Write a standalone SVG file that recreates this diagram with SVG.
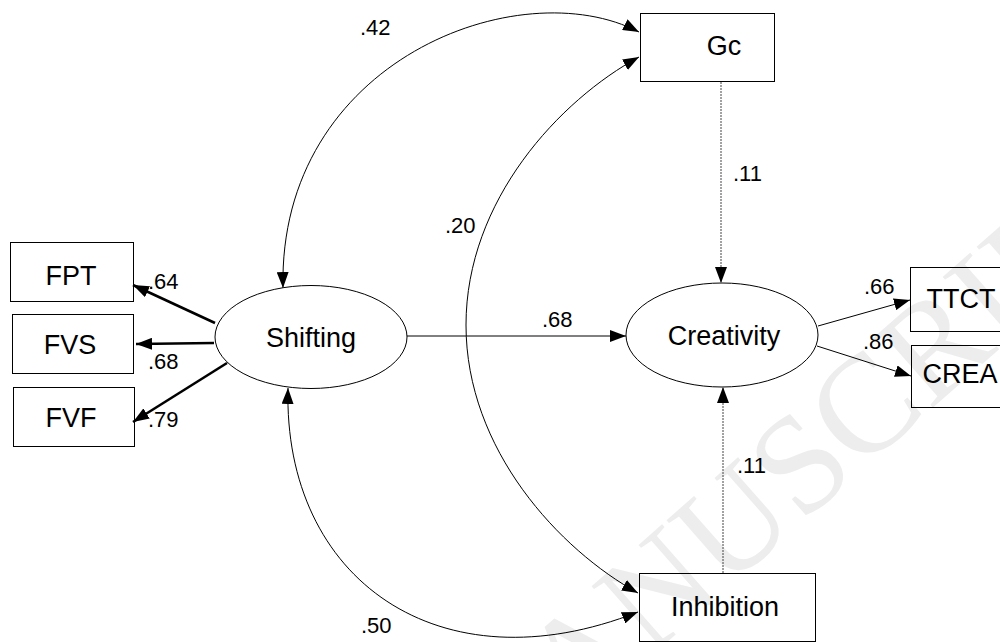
<svg xmlns="http://www.w3.org/2000/svg" width="1000" height="642" viewBox="0 0 1000 642">
<defs>
<style>
.box{fill:none;stroke:#000;stroke-width:1}
.ell{fill:#fff;stroke:#000;stroke-width:1}
.nt{font-family:"Liberation Sans",Arial,sans-serif;font-size:27px;fill:#000;text-anchor:middle}
.lb{font-family:"Liberation Sans",Arial,sans-serif;font-size:22px;fill:#000}
.thin{fill:none;stroke:#000;stroke-width:1}
.thick{fill:none;stroke:#000;stroke-width:2.6}
.dot{fill:none;stroke:#444;stroke-width:1;stroke-dasharray:2,1}
.wm{font-family:"Liberation Serif","Times New Roman",serif;font-size:140px;fill:#ededed}
</style>
<marker id="ah" viewBox="0 0 16 12" refX="16" refY="6" markerWidth="16" markerHeight="12" markerUnits="userSpaceOnUse" orient="auto-start-reverse">
<path d="M0,0 L16,6 L0,12 z" fill="#000"/>
</marker>
</defs>
<rect width="1000" height="642" fill="#fff"/>
<text class="wm" x="480" y="807" transform="rotate(-41.4 480 807)">MANUSCRIPT</text>

<g id="connectors">
<line class="thick" x1="215" y1="323" x2="133" y2="285" marker-end="url(#ah)"/>
<line class="thick" x1="214" y1="343" x2="136" y2="344" marker-end="url(#ah)"/>
<line class="thick" x1="227" y1="363" x2="133" y2="422" marker-end="url(#ah)"/>
<line class="thin" x1="407" y1="336" x2="626" y2="336" marker-end="url(#ah)"/>
<line class="thin" x1="818" y1="326" x2="910" y2="300" marker-end="url(#ah)"/>
<line class="thin" x1="817" y1="346" x2="911" y2="376" marker-end="url(#ah)"/>
<line class="dot" x1="721" y1="82" x2="721" y2="283" marker-end="url(#ah)"/>
<line class="dot" x1="723" y1="573" x2="723" y2="387" marker-end="url(#ah)"/>
<path class="thin" d="M283,288 C278,60 520,-30 639,32" marker-start="url(#ah)" marker-end="url(#ah)"/>
<path class="thin" d="M639,57 C560,100 466,200 466,325 C466,450 560,550 638,593" marker-start="url(#ah)" marker-end="url(#ah)"/>
<path class="thin" d="M288,388 C283,580 440,690 638,612" marker-start="url(#ah)" marker-end="url(#ah)"/>
<text class="lb" x="148" y="289">.64</text>
<text class="lb" x="148" y="369">.68</text>
<text class="lb" x="148" y="427">.79</text>
<text class="lb" x="542" y="327">.68</text>
<text class="lb" x="864" y="294">.66</text>
<text class="lb" x="863" y="349">.86</text>
<text class="lb" x="733" y="181">.11</text>
<text class="lb" x="737" y="473">.11</text>
<text class="lb" x="360" y="35">.42</text>
<text class="lb" x="445" y="233">.20</text>
<text class="lb" x="361" y="633">.50</text>
</g>

<g id="FPT"><rect class="box" x="10.5" y="242.5" width="123" height="59"/><text class="nt" x="71" y="285">FPT</text></g>
<g id="FVS"><rect class="box" x="12.5" y="314.5" width="121" height="59"/><text class="nt" x="70" y="354">FVS</text></g>
<g id="FVF"><rect class="box" x="13.5" y="387.5" width="121" height="59"/><text class="nt" x="71" y="427">FVF</text></g>
<g id="Shifting"><ellipse class="ell" cx="311" cy="337" rx="96" ry="51.5"/><text class="nt" x="311" y="347">Shifting</text></g>
<g id="Creativity"><ellipse class="ell" cx="722" cy="335" rx="96" ry="52"/><text class="nt" x="724" y="345">Creativity</text></g>
<g id="Gc"><rect class="box" x="640.5" y="13.5" width="134" height="68"/><text class="nt" x="724" y="55">Gc</text></g>
<g id="Inhibition"><rect class="box" x="639.5" y="573.5" width="176" height="68"/><text class="nt" x="725" y="616">Inhibition</text></g>
<g id="TTCT"><rect class="box" x="910.5" y="267.5" width="100" height="64"/><text class="nt" x="961" y="308">TTCT</text></g>
<g id="CREA"><rect class="box" x="911.5" y="345.5" width="100" height="62"/><text class="nt" x="960" y="383">CREA</text></g>
</svg>
